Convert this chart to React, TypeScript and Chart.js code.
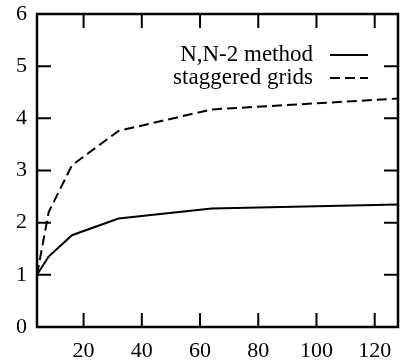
import React, { useEffect, useRef } from "react";
import { Chart, registerables } from "chart.js";

Chart.register(...registerables);

const gridSizes = [4, 8, 16, 32, 64, 128];
const nn2Method = [1.0, 1.35, 1.76, 2.08, 2.27, 2.35];
const staggeredGrids = [1.0, 2.2, 3.1, 3.76, 4.17, 4.38];
const xTicks = [20, 40, 60, 80, 100, 120];
const yTicks = [0, 1, 2, 3, 4, 5, 6];
const seriesLabels = ["N,N-2 method", "staggered grids"];

const FONT = "'Liberation Serif', 'Times New Roman', serif";

const frameAndLegend = {
  id: "frameAndLegend",
  afterDatasetsDraw(chart: any) {
    const { ctx, chartArea: a, scales } = chart;
    ctx.save();
    ctx.strokeStyle = "#000";
    ctx.lineWidth = 2.5;
    ctx.setLineDash([]);
    ctx.strokeRect(a.left, a.top, a.right - a.left, a.bottom - a.top);
    const tl = 14;
    ctx.lineWidth = 2;
    ctx.beginPath();
    xTicks.forEach((v) => {
      const px = scales.x.getPixelForValue(v);
      ctx.moveTo(px, a.bottom);
      ctx.lineTo(px, a.bottom - tl);
      ctx.moveTo(px, a.top);
      ctx.lineTo(px, a.top + tl);
    });
    yTicks.forEach((v) => {
      const py = scales.y.getPixelForValue(v);
      ctx.moveTo(a.left, py);
      ctx.lineTo(a.left + tl, py);
      ctx.moveTo(a.right, py);
      ctx.lineTo(a.right - tl, py);
    });
    ctx.stroke();

    // gnuplot-style legend
    ctx.font = `23px ${FONT}`;
    ctx.fillStyle = "#000";
    ctx.textAlign = "right";
    ctx.textBaseline = "middle";
    const textRight = 313;
    const sx0 = 330;
    const sx1 = 368;
    const rows = [55, 78];
    chart.data.datasets.forEach((ds: any, i: number) => {
      const y = rows[i];
      ctx.fillText(ds.label, textRight, y);
      ctx.beginPath();
      ctx.lineWidth = 2;
      ctx.setLineDash(ds.borderDash || []);
      ctx.moveTo(sx0, y);
      ctx.lineTo(sx1, y);
      ctx.stroke();
    });
    ctx.restore();
  },
};

export default function App() {
  const ref = useRef<HTMLCanvasElement>(null);
  useEffect(() => {
    document.body.style.margin = "0";
    const chart = new Chart(ref.current!, {
      type: "line",
      data: {
        datasets: [
          {
            label: seriesLabels[0],
            data: gridSizes.map((x, i) => ({ x, y: nn2Method[i] })),
            borderColor: "#000",
            borderWidth: 2,
            pointRadius: 0,
            tension: 0,
          },
          {
            label: seriesLabels[1],
            data: gridSizes.map((x, i) => ({ x, y: staggeredGrids[i] })),
            borderColor: "#000",
            borderWidth: 2,
            borderDash: [10, 5],
            pointRadius: 0,
            tension: 0,
          },
        ],
      },
      options: {
        responsive: false,
        animation: false,
        layout: { padding: { left: 0, right: 2, top: 14, bottom: 0 } },
        plugins: { legend: { display: false }, tooltip: { enabled: false } },
        scales: {
          x: {
            type: "linear",
            min: 4,
            max: 128,
            afterBuildTicks: (s: any) => {
              s.ticks = xTicks.map((v) => ({ value: v }));
            },
            afterFit: (s: any) => {
              s.height = 37;
              s.paddingLeft = 0;
              s.paddingRight = 0;
              s.paddingTop = 0;
              s.paddingBottom = 0;
            },
            grid: { display: false, drawTicks: false },
            border: { display: false },
            ticks: { color: "#000", font: { family: FONT, size: 22 }, padding: 11, maxRotation: 0 },
          },
          y: {
            type: "linear",
            min: 0,
            max: 6,
            afterBuildTicks: (s: any) => {
              s.ticks = yTicks.map((v) => ({ value: v }));
            },
            afterFit: (s: any) => {
              s.width = 37;
              s.paddingTop = 0;
              s.paddingBottom = 0;
              s.paddingLeft = 0;
              s.paddingRight = 0;
            },
            grid: { display: false, drawTicks: false },
            border: { display: false },
            ticks: { color: "#000", font: { family: FONT, size: 22 }, padding: 10 },
          },
        },
      },
      plugins: [frameAndLegend],
    });
    return () => chart.destroy();
  }, []);
  return <canvas ref={ref} width={400} height={364} style={{ display: "block" }} />;
}
